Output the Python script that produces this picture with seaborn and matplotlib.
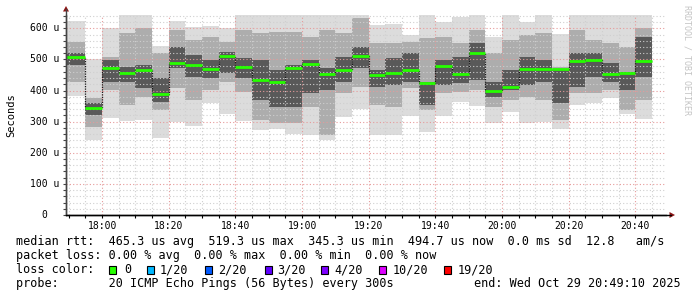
import matplotlib
matplotlib.use("Agg")
import matplotlib.pyplot as plt
import seaborn as sns
import numpy as np
import pandas as pd
from matplotlib.patches import Rectangle, Polygon
from matplotlib.lines import Line2D

# ---------------- data (microseconds) ----------------
bar_start = ["17:50", "17:55", "18:00", "18:05", "18:10", "18:15", "18:20", "18:25",
             "18:30", "18:35", "18:40", "18:45", "18:50", "18:55", "19:00", "19:05",
             "19:10", "19:15", "19:20", "19:25", "19:30", "19:35", "19:40", "19:45",
             "19:50", "19:55", "20:00", "20:05", "20:10", "20:15", "20:20", "20:25",
             "20:30", "20:35", "20:40"]
median = [507, 345.3, 473, 455, 465, 390, 490, 482, 469, 512, 475, 433, 428, 471, 486, 452,
          465, 512, 449, 456, 467, 425, 478, 452, 519.3, 398, 412, 470, 468, 468, 494, 497,
          454, 456, 494.7]
outer_lo = [382, 241, 313, 303, 305, 249, 298, 285, 359, 324, 302, 273, 276, 260, 257, 241,
            316, 340, 257, 257, 318, 268, 318, 364, 351, 297, 332, 297, 300, 275, 354, 359,
            375, 325, 309]
outer_hi = [623, 500, 602, 650, 650, 543, 623, 605, 608, 602, 650, 650, 650, 650, 650, 650,
            650, 650, 611, 614, 579, 650, 621, 637, 650, 573, 650, 621, 650, 582, 650, 650,
            650, 650, 650]
mid_lo = [428, 284, 402, 354, 380, 337, 407, 370, 402, 428, 396, 305, 295, 295, 348, 257,
          391, 412, 354, 348, 407, 337, 391, 396, 402, 348, 370, 380, 370, 305, 391, 391,
          402, 337, 370]
mid_hi = [557, 375, 509, 584, 600, 520, 595, 563, 573, 557, 595, 584, 589, 589, 573, 595,
          584, 632, 552, 552, 557, 568, 573, 552, 595, 520, 563, 579, 584, 477, 595, 563,
          552, 541, 600]
dark_lo = [482, 321, 428, 428, 407, 364, 472, 445, 439, 455, 439, 370, 348, 348, 391, 402,
           428, 472, 412, 418, 428, 354, 418, 423, 434, 380, 402, 418, 428, 359, 412, 445,
           428, 402, 445]
dark_hi = [522, 359, 498, 477, 482, 439, 541, 514, 498, 525, 504, 498, 466, 482, 498, 472,
           509, 541, 466, 504, 520, 428, 498, 509, 552, 428, 466, 509, 498, 466, 520, 520,
           488, 461, 573]

window_start = "17:49:10"
window_end = "20:49:10"
step_minutes = 5
xtick_labels = ["18:00", "18:20", "18:40", "19:00", "19:20", "19:40", "20:00", "20:20", "20:40"]
ytick_values = [0, 100, 200, 300, 400, 500, 600]
ytick_labels = ["0", "100 u", "200 u", "300 u", "400 u", "500 u", "600 u"]
y_top = 643

legend_lines = [
    "median rtt:  465.3 us avg  519.3 us max  345.3 us min  494.7 us now  0.0 ms sd  12.8   am/s",
    "packet loss: 0.00 % avg  0.00 % max  0.00 % min  0.00 % now",
    "loss color:",
    "probe:       20 ICMP Echo Pings (56 Bytes) every 300s",
]
loss_labels = ["0", "1/20", "2/20", "3/20", "4/20", "10/20", "19/20"]
loss_colors = ["#26ff00", "#00b8ff", "#0059ff", "#5e00ff", "#7e00ff", "#dd00ff", "#ff0000"]
end_text = "end: Wed Oct 29 20:49:10 2025"


def to_min(s):
    parts = [int(p) for p in s.split(":")]
    while len(parts) < 3:
        parts.append(0)
    return parts[0] * 60 + parts[1] + parts[2] / 60.0 - 18 * 60


# ---------------- figure ----------------
sns.set_theme(style="white")
plt.rcParams['font.family'] = ['DejaVu Sans Mono', 'DejaVu Sans']
W, H = 697, 297
fig = plt.figure(figsize=(W / 100, H / 100), dpi=100)
fig.patch.set_facecolor("white")


def fp(x, y):
    return (x / W, 1 - y / H)


ax = fig.add_axes([66 / W, (H - 215) / H, 600 / W, 200 / H])
ax.set_facecolor("white")

x0, x1 = to_min(window_start), to_min(window_end)
starts = np.array([to_min(s) for s in bar_start])
lefts = starts.copy()
lefts[0] = max(x0, starts[0] - step_minutes)
rights = starts + step_minutes
widths = rights - lefts

df = pd.DataFrame({
    "left": lefts, "width": widths, "median": median,
    "olo": outer_lo, "ohi": outer_hi, "mlo": mid_lo, "mhi": mid_hi,
    "dlo": dark_lo, "dhi": dark_hi,
})

for lo, hi, col, z in [("olo", "ohi", "#dcdcdc", 1.0),
                       ("mlo", "mhi", "#adadad", 1.1),
                       ("dlo", "dhi", "#595959", 1.2)]:
    ax.bar(df["left"], df[hi] - df[lo], bottom=df[lo], width=df["width"],
           align="edge", color=col, linewidth=0, zorder=z)

# step connector of medians
step_x = list(df["left"]) + [rights[-1]]
step_y = list(df["median"]) + [median[-1]]
sns.lineplot(x=step_x, y=step_y, ax=ax, drawstyle="steps-post", color="#1a1a1a",
             lw=0.9, linestyle=(0, (1, 1)), estimator=None, sort=False, zorder=4)
ax.hlines(df["median"], df["left"], df["left"] + df["width"], color="#26ff00", lw=2.0,
          zorder=5)

ax.set_xlim(x0, x1)
ax.set_ylim(0, y_top)

xt = [to_min(t) for t in xtick_labels]
ax.set_xticks(xt)
ax.set_xticklabels(xtick_labels, fontsize=7, color="black")
ax.set_xticks(np.arange(to_min("17:50"), x1, 5), minor=True)
ax.set_yticks(ytick_values)
ax.set_yticklabels([])
ax.set_yticks(np.arange(0, y_top, 20), minor=True)

ax.set_axisbelow(False)
ax.grid(which="minor", color="#cfcfcf", linestyle=(0, (1, 2)), lw=0.8)
ax.grid(which="major", color="#e69a9a", linestyle=(0, (1, 2)), lw=0.8)

ax.tick_params(axis="x", which="both", direction="out", length=2.2, width=0.8,
               color="black", pad=2.0, bottom=True)
ax.tick_params(axis="y", which="both", direction="out", length=2.2, width=0.8,
               color="#444444", left=True)

for s in ["top", "right"]:
    ax.spines[s].set_visible(False)
ax.spines["bottom"].set_color("black")
ax.spines["bottom"].set_linewidth(1.0)
ax.spines["left"].set_color("#444444")
ax.spines["left"].set_linewidth(1.0)
ax.spines["bottom"].set_zorder(6)
ax.spines["left"].set_zorder(6)

# y tick labels (monospace, right-aligned with trailing unit slot)
for v, lab in zip(ytick_values, ytick_labels):
    xr = 59.3 if lab.endswith("u") else 47.4
    fig.text(xr / W, 1 - (215 - v * 200 / y_top) / H, lab, fontsize=7,
             ha="right", va="center", color="black")

# axis extensions and arrows
fig.add_artist(Line2D([66 / W, 66 / W], [1 - 215 / H, 1 - 9 / H], color="#444444", lw=1.0))
fig.add_artist(Line2D([66 / W, 671 / W], [1 - 215 / H, 1 - 215 / H], color="black", lw=1.0))
fig.add_artist(Polygon([fp(63, 11.5), fp(69, 11.5), fp(66, 6)], closed=True,
                       facecolor="#8b1414", edgecolor="none"))
fig.add_artist(Polygon([fp(669.5, 212), fp(669.5, 218), fp(675, 215)], closed=True,
                       facecolor="#8b1414", edgecolor="none"))

# labels
fig.text(11 / W, 1 - 115 / H, "Seconds", rotation=90, ha="center", va="center",
         fontsize=7.5, color="black")
fig.text(687 / W, 1 - 5 / H, "RRDTOOL / TOBI OETIKER", rotation=270, ha="center",
         va="top", fontsize=6, color="#c4c4c4")

# legend block
LF = 8.5
baselines = [245, 259, 273.3, 287]
for line, by in zip(legend_lines, baselines):
    fig.text(16 / W, 1 - by / H, line, fontsize=LF, ha="left", va="baseline",
             color="black")
fig.text(681 / W, 1 - baselines[3] / H, end_text, fontsize=LF, ha="right",
         va="baseline", color="black")

sq_x = [109, 146.5, 204.5, 264.5, 321, 379, 444]
lab_x = [124, 159.5, 218, 277.5, 334, 392.5, 457.5]
for sx, lx, lab, col in zip(sq_x, lab_x, loss_labels, loss_colors):
    fig.add_artist(Rectangle(fp(sx, 273.5), 7 / W, 7.5 / H, facecolor=col,
                             edgecolor="black", lw=0.8))
    fig.text(lx / W, 1 - baselines[2] / H, lab, fontsize=LF, ha="left",
             va="baseline", color="black")

fig.savefig("out.png", dpi=100, facecolor="white")
